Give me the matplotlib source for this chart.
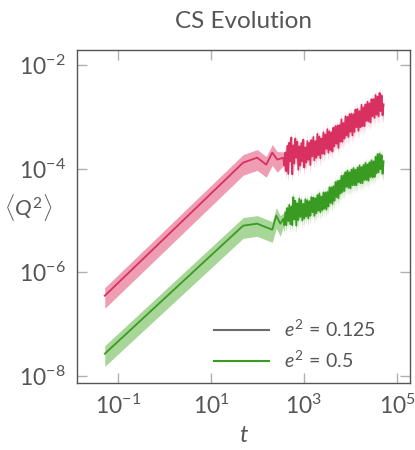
import matplotlib
matplotlib.use('Agg')
import matplotlib.pyplot as plt
import numpy as np

plt.rcParams['font.family'] = ['Lato', 'DejaVu Sans']
plt.rcParams['mathtext.fontset'] = 'custom'
plt.rcParams['mathtext.rm'] = 'Lato'
plt.rcParams['mathtext.it'] = 'Lato:italic'
plt.rcParams['mathtext.bf'] = 'Lato:bold'

# values, as log10(t) and log10(<Q^2>)
pink_head_logt = [-1.287, 1.690, 1.992, 2.187, 2.316, 2.424]
pink_head_logq = [-6.452, -3.884, -3.788, -3.923, -3.691, -3.826]
green_head_logt = [-1.287, 1.690, 1.992, 2.316, 2.403, 2.489]
green_head_logq = [-7.571, -5.100, -5.062, -5.178, -4.907, -5.062]

noisy_logt = [2.553, 2.575, 2.596, 2.618, 2.639, 2.661, 2.682, 2.704, 2.726, 2.747,
              2.769, 2.790, 2.812, 2.833, 2.855, 2.877, 2.898, 2.920, 2.941, 2.963,
              2.985, 3.006, 3.028, 3.049, 3.071, 3.092, 3.114, 3.136, 3.157, 3.179,
              3.200, 3.222, 3.244, 3.265, 3.287, 3.308, 3.330, 3.351, 3.373, 3.395,
              3.416, 3.438, 3.459, 3.481, 3.502, 3.524, 3.546, 3.567, 3.589, 3.610,
              3.632, 3.653, 3.675, 3.697, 3.718, 3.740, 3.761, 3.783, 3.804, 3.826,
              3.848, 3.869, 3.891, 3.912, 3.934, 3.955, 3.977, 3.999, 4.020, 4.042,
              4.063, 4.085, 4.107, 4.128, 4.150, 4.171, 4.193, 4.214, 4.236, 4.258,
              4.279, 4.301, 4.322, 4.344, 4.366, 4.387, 4.409, 4.430, 4.452, 4.473,
              4.495, 4.517, 4.538, 4.560, 4.581, 4.603, 4.625, 4.646, 4.668, 4.689,
              4.711]
pink_noisy_logq = [-3.79, -3.94, -3.69, -4.05, -3.56, -4.10, -3.50, -3.86, -3.40, -4.11,
                   -3.55, -3.90, -3.42, -3.79, -3.48, -4.02, -3.57, -3.94, -3.51, -3.86,
                   -3.44, -3.98, -3.59, -3.88, -3.47, -3.83, -3.50, -3.93, -3.45, -3.76,
                   -3.39, -3.84, -3.47, -3.79, -3.33, -3.74, -3.38, -3.80, -3.42, -3.71,
                   -3.30, -3.72, -3.34, -3.62, -3.24, -3.69, -3.28, -3.64, -3.30, -3.67,
                   -3.21, -3.57, -3.18, -3.52, -3.17, -3.60, -3.16, -3.48, -3.05, -3.48,
                   -3.12, -3.42, -2.99, -3.36, -3.00, -3.39, -2.95, -3.29, -2.94, -3.36,
                   -2.95, -3.29, -2.86, -3.20, -2.85, -3.27, -2.89, -3.20, -2.77, -3.18,
                   -2.82, -3.18, -2.76, -3.08, -2.71, -3.09, -2.74, -3.11, -2.66, -2.99,
                   -2.66, -3.02, -2.58, -2.96, -2.61, -2.99, -2.54, -2.89, -2.59, -2.97,
                   -2.76]
green_noisy_logq = [-4.97, -5.09, -4.84, -5.09, -4.76, -5.01, -4.70, -5.07, -4.73, -5.09,
                    -4.55, -4.98, -4.62, -5.10, -4.67, -4.99, -4.58, -4.93, -4.61, -5.00,
                    -4.68, -4.96, -4.59, -4.92, -4.61, -4.96, -4.63, -4.91, -4.55, -4.84,
                    -4.56, -4.91, -4.57, -4.86, -4.51, -4.81, -4.48, -4.84, -4.54, -4.80,
                    -4.46, -4.77, -4.46, -4.79, -4.45, -4.73, -4.36, -4.66, -4.36, -4.68,
                    -4.34, -4.62, -4.26, -4.55, -4.24, -4.57, -4.23, -4.48, -4.14, -4.45,
                    -4.13, -4.43, -4.07, -4.35, -4.04, -4.37, -4.07, -4.38, -4.02, -4.32,
                    -3.99, -4.32, -4.02, -4.32, -3.98, -4.26, -3.94, -4.28, -3.97, -4.28,
                    -3.93, -4.22, -3.89, -4.22, -3.92, -4.23, -3.88, -4.16, -3.84, -4.17,
                    -3.86, -4.16, -3.77, -4.09, -3.72, -4.07, -3.71, -4.01, -3.74, -4.10,
                    -3.86]

# spread of the shaded band relative to the mean
rel_std_head = 0.43
rel_std_noisy = 0.30

labels = [r'$e^2 \,=\, 0.125$', r'$e^2 \,=\, 0.5$']
xticks = [1e-1, 1e1, 1e3, 1e5]
yticks = [1e-8, 1e-6, 1e-4, 1e-2]

pink, pink_fill = '#d93062', '#ee93ab'
green, green_fill = '#3a9b22', '#9ed28d'
gray = '#555555'

fig = plt.figure(figsize=(4.15, 4.5), dpi=100)
ax = fig.add_axes([0.1855, 0.149, 0.8025, 0.74])

series = [
    (pink_head_logt, pink_head_logq, pink_noisy_logq, pink, pink_fill),
    (green_head_logt, green_head_logq, green_noisy_logq, green, green_fill),
]
for head_t, head_q, noisy_q, c, fc in series:
    t = 10 ** np.array(head_t + noisy_logt)
    q = 10 ** np.array(head_q + noisy_q)
    rel = np.array([rel_std_head] * len(head_t) + [rel_std_noisy] * len(noisy_logt))
    ax.fill_between(t, q * (1 - rel), q * (1 + rel), color=fc, lw=0, alpha=0.9)
    ax.plot(t, q, color=c, lw=1.3)

# legend handles (first entry is drawn gray in the original)
h1, = ax.plot([], [], color='#6b6b6b', lw=1.5)
h2, = ax.plot([], [], color=green, lw=1.5)
leg = ax.legend([h1, h2], labels, loc='lower right', frameon=False, fontsize=14,
                handlelength=2.8, labelcolor=gray, bbox_to_anchor=(0.95, -0.015))

ax.set_xscale('log')
ax.set_yscale('log')
ax.set_xlim(10 ** -1.885, 10 ** 5.28)
ax.set_ylim(10 ** -8.135, 10 ** -1.71)
ax.set_xticks(xticks)
ax.set_yticks(yticks)
ax.minorticks_off()
ax.tick_params(which='major', direction='in', length=7.5, width=1, color='#b0b0b0',
               top=True, right=True, labelsize=16.5, labelcolor=gray, pad=8)
for s in ax.spines.values():
    s.set_color(gray)
    s.set_linewidth(1)

ax.set_title('CS Evolution', fontsize=17.5, color=gray, pad=16)
ax.set_xlabel('$t$', fontsize=17, color=gray, labelpad=5)
ax.set_ylabel(r'$\langle Q^2\rangle$', fontsize=16, color=gray, rotation=0, labelpad=22)
ax.yaxis.set_label_coords(-0.145, 0.48)

plt.savefig('out.png', dpi=100)
plt.close()
